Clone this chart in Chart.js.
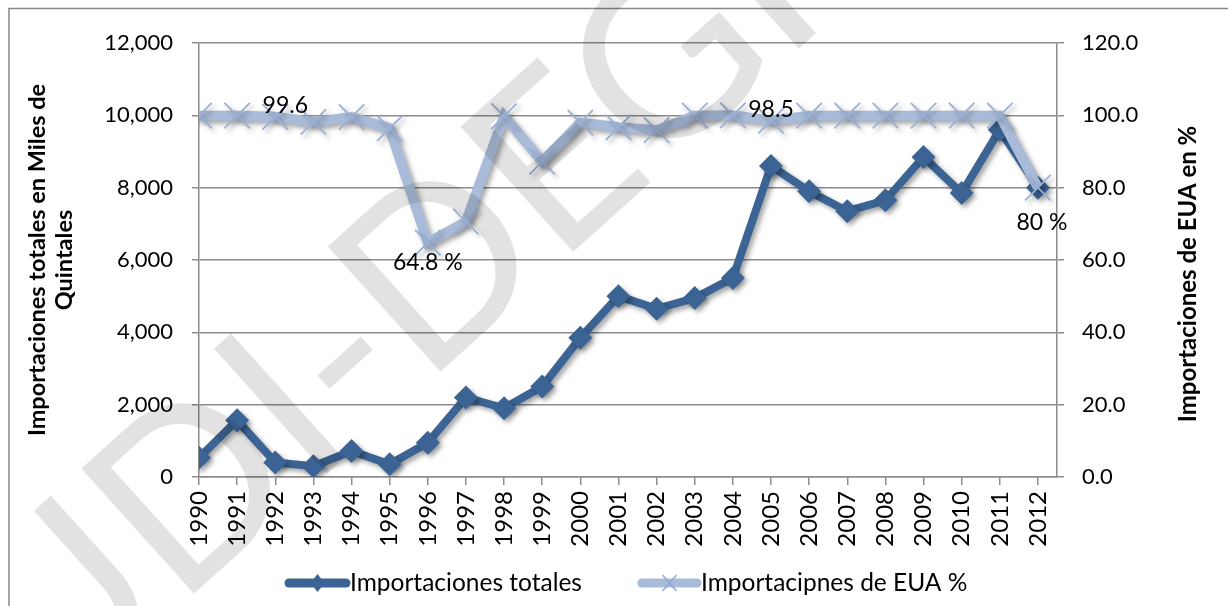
<!DOCTYPE html>
<html>
<head>
<meta charset="utf-8">
<script src="https://cdn.jsdelivr.net/npm/chart.js@4"></script>
<style>
  html, body { margin: 0; padding: 0; background: #fff; }
  #wrap { width: 1228px; height: 606px; position: relative; }
</style>
</head>
<body>
<div id="wrap"><canvas id="myChart" width="1228" height="606"></canvas></div>
<script>
const years = [1990, 1991, 1992, 1993, 1994, 1995, 1996, 1997, 1998, 1999, 2000, 2001,
  2002, 2003, 2004, 2005, 2006, 2007, 2008, 2009, 2010, 2011, 2012];
const totales = [530, 1570, 400, 300, 720, 350, 950, 2200, 1900, 2500, 3850, 5000,
  4650, 4950, 5500, 8600, 7900, 7350, 7650, 8850, 7850, 9600, 8000];
const euaPct = [99.9, 99.9, 99.6, 98.2, 99.5, 96.4, 64.8, 70.6, 99.8, 87.2, 98.0, 96.7,
  95.9, 99.9, 100.0, 98.5, 99.9, 99.9, 99.9, 99.9, 99.9, 99.9, 80.0];
const pctLabels = [[2, "99.6"], [6, "64.8 %"], [15, "98.5"], [22, "80 %"]];
const seriesNames = ["Importaciones totales", "Importacipnes de EUA %"];
const rightTitle = "Importaciones de EUA en %";

const darkBlue = "#3b6495";
const lightBlue = "#a8bbd9";
const gridGrey = "#8c8c8c";

Chart.defaults.font.family = "Lato";
Chart.defaults.color = "#000";

// shadow under the lines, like the office chart
const shadow = {
  id: "shadow",
  beforeDatasetDraw(chart) {
    const ctx = chart.ctx;
    ctx.save();
    ctx.shadowColor = "rgba(0,0,0,0.35)";
    ctx.shadowBlur = 5;
    ctx.shadowOffsetX = 3;
    ctx.shadowOffsetY = 3;
  },
  afterDatasetDraw(chart) {
    chart.ctx.restore();
  }
};

const extras = {
  id: "extras",
  afterDraw(chart) {
    const ctx = chart.ctx;
    const area = chart.chartArea;

    // right axis title, reads bottom to top
    ctx.save();
    ctx.font = "bold 24px Lato";
    ctx.fillStyle = "#000";
    ctx.textAlign = "center";
    ctx.textBaseline = "middle";
    ctx.translate(1188, (area.top + area.bottom) / 2 + 14);
    ctx.rotate(-Math.PI / 2);
    ctx.fillText(rightTitle, 0, 0);
    ctx.restore();

    // value labels on the % series
    const meta = chart.getDatasetMeta(1);
    const offs = { 2: [10, -11], 6: [0, 20], 15: [0, -11], 22: [4, 35] };
    ctx.save();
    ctx.font = "23px Lato";
    ctx.fillStyle = "#000";
    ctx.textAlign = "center";
    ctx.textBaseline = "middle";
    pctLabels.forEach(([i, txt]) => {
      const p = meta.data[i];
      ctx.fillText(txt, p.x + offs[i][0], p.y + offs[i][1]);
    });
    ctx.restore();

    // legend
    const ly = 583;
    const items = [
      { x0: 285, x1: 350, color: darkBlue, mark: "diamond", text: seriesNames[0] },
      { x0: 638, x1: 701, color: lightBlue, mark: "cross", text: seriesNames[1] }
    ];
    ctx.save();
    items.forEach((it) => {
      ctx.strokeStyle = it.color;
      ctx.lineWidth = 9;
      ctx.lineCap = "round";
      ctx.beginPath();
      ctx.moveTo(it.x0 + 4, ly);
      ctx.lineTo(it.x1 - 4, ly);
      ctx.stroke();
      const cx = (it.x0 + it.x1) / 2;
      if (it.mark === "diamond") {
        ctx.fillStyle = it.color;
        ctx.beginPath();
        ctx.moveTo(cx, ly - 9);
        ctx.lineTo(cx + 7, ly);
        ctx.lineTo(cx, ly + 9);
        ctx.lineTo(cx - 7, ly);
        ctx.closePath();
        ctx.fill();
      } else {
        ctx.strokeStyle = "#8fa8d2";
        ctx.lineWidth = 1.5;
        ctx.lineCap = "butt";
        ctx.beginPath();
        ctx.moveTo(cx - 7, ly - 8); ctx.lineTo(cx + 7, ly + 8);
        ctx.moveTo(cx + 7, ly - 8); ctx.lineTo(cx - 7, ly + 8);
        ctx.stroke();
      }
      ctx.fillStyle = "#000";
      ctx.font = "24.5px Lato";
      ctx.textAlign = "left";
      ctx.textBaseline = "middle";
      ctx.fillText(it.text, it.x1, ly);
    });
    ctx.restore();

    // outer frame
    ctx.save();
    ctx.strokeStyle = "#888";
    ctx.lineWidth = 1.5;
    ctx.beginPath();
    ctx.moveTo(9, 606);
    ctx.lineTo(9, 8.5);
    ctx.lineTo(1228, 8.5);
    ctx.stroke();
    ctx.restore();

    // watermark
    ctx.save();
    ctx.globalCompositeOperation = "multiply";
    ctx.fillStyle = "#e2e2e2";
    ctx.font = "235px Lato";
    ctx.textAlign = "center";
    ctx.textBaseline = "middle";
    ctx.translate(390, 315);
    ctx.rotate(-42 * Math.PI / 180);
    ctx.fillText("UDI-DEGI", 0, 0);
    ctx.restore();
  }
};

const ctx = document.getElementById("myChart").getContext("2d");
const myChart = new Chart(ctx, {
  type: "line",
  data: {
    datasets: [
      {
        label: seriesNames[0],
        data: years.map((y, i) => ({ x: y, y: totales[i] })),
        yAxisID: "y",
        borderColor: darkBlue,
        backgroundColor: darkBlue,
        borderWidth: 8,
        pointStyle: "rectRot",
        pointRadius: 12,
        pointBorderWidth: 0,
        pointBackgroundColor: darkBlue,
        tension: 0,
        order: 2
      },
      {
        label: seriesNames[1],
        data: years.map((y, i) => ({ x: y, y: euaPct[i] })),
        yAxisID: "y1",
        borderColor: lightBlue,
        backgroundColor: lightBlue,
        borderWidth: 10,
        pointStyle: "crossRot",
        pointRadius: 18,
        pointBorderWidth: 1.8,
        pointBorderColor: "#9ab0d6",
        tension: 0,
        order: 1
      }
    ]
  },
  options: {
    responsive: false,
    animation: false,
    layout: { padding: { top: 43, left: 0, right: 0, bottom: 0 } },
    plugins: {
      legend: { display: false },
      tooltip: { enabled: false }
    },
    scales: {
      x: {
        type: "linear",
        min: 1990,
        max: 2012.5,
        afterBuildTicks: (s) => { s.ticks = years.map((v) => ({ value: v })); },
        afterFit: (s) => { s.height = 129; },
        ticks: {
          stepSize: 1,
          autoSkip: false,
          minRotation: 90,
          maxRotation: 90,
          padding: 6,
          font: { size: 24 },
          callback: (v) => String(v)
        },
        grid: { drawOnChartArea: false, drawTicks: true, tickLength: 8, color: gridGrey, lineWidth: 1.5 },
        border: { color: gridGrey, width: 1.5 }
      },
      y: {
        position: "left",
        min: 0,
        max: 12000,
        afterFit: (s) => { s.width = 199; },
        ticks: {
          stepSize: 2000,
          padding: 19,
          font: { size: 22 },
          callback: (v) => v.toLocaleString("en-US")
        },
        grid: { color: gridGrey, lineWidth: 1.5, tickLength: 7 },
        border: { color: gridGrey, width: 1.5 },
        title: {
          display: true,
          text: ["Importaciones totales en Miles de", "Quintales"],
          font: { size: 23.5, weight: "bold", lineHeight: 1.15 },
          padding: { top: 24, bottom: 0 }
        }
      },
      y1: {
        position: "right",
        min: 0,
        max: 120,
        afterFit: (s) => { s.width = 171; },
        ticks: {
          stepSize: 20,
          padding: 18,
          font: { size: 22 },
          callback: (v) => v.toFixed(1)
        },
        grid: { drawOnChartArea: false, color: gridGrey, lineWidth: 1.5, tickLength: 7 },
        border: { color: gridGrey, width: 1.5 }
      }
    }
  },
  plugins: [shadow, extras]
});
</script>
</body>
</html>
